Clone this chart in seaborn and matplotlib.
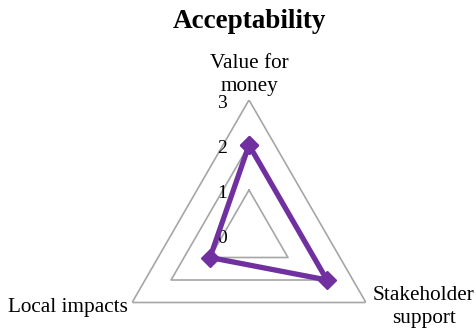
import matplotlib
matplotlib.use("Agg")
import matplotlib.pyplot as plt
import seaborn as sns
import numpy as np
import pandas as pd

# data
categories = ["Value for\nmoney", "Stakeholder\nsupport", "Local impacts"]
scores = [2, 2, 1]
grid_levels = [1, 2, 3]
tick_labels = ["0", "1", "2", "3"]

PURPLE = "#7030A0"
GRID = "#A6A6A6"

sns.set_theme(style="white")
plt.rcParams["font.family"] = ["Liberation Serif", "DejaVu Serif"]
plt.rcParams["text.color"] = "black"

n = len(categories)
angles = [i * 2 * np.pi / n for i in range(n)]

# closed loop for the series
df = pd.DataFrame({
    "theta": angles + angles[:1],
    "score": scores + scores[:1],
})

fig = plt.figure(figsize=(4.77, 3.28), dpi=100)
W, H = 477, 328
cx, cy, R = 249, 235, 135
ax = fig.add_axes([(cx - R) / W, (H - cy - R) / H, 2 * R / W, 2 * R / H], projection="polar")
ax.set_theta_offset(np.pi / 2)
ax.set_theta_direction(-1)
ax.set_ylim(0, 3)
ax.grid(False)
ax.spines["polar"].set_visible(False)
ax.set_xticks([])
ax.set_yticks([])
ax.patch.set_alpha(0)

# triangular gridlines
for lvl in grid_levels:
    ax.plot(angles + angles[:1], [lvl] * (n + 1), color=GRID, lw=1.2, zorder=1)

sns.lineplot(data=df, x="theta", y="score", sort=False, ax=ax, color=PURPLE,
             lw=3.8, marker="D", markersize=9, markeredgecolor=PURPLE,
             markeredgewidth=1, zorder=3, estimator=None)
ax.set_xlabel("")
ax.set_ylabel("")

# value labels along the top axis
for i, t in enumerate(tick_labels):
    ax.annotate(t, xy=(0, i), xytext=(-19.5, -6), textcoords="offset points",
                ha="center", va="baseline", fontsize=14, zorder=2, annotation_clip=False)

# category labels
fs = 15.3
ax.annotate(categories[0], xy=(angles[0], 3), xytext=(0, 3), textcoords="offset points",
            ha="center", va="bottom", fontsize=fs, linespacing=1.3,
            multialignment="center", annotation_clip=False)
ax.annotate(categories[1], xy=(angles[1], 3), xytext=(5, -15), textcoords="offset points",
            ha="left", va="baseline", fontsize=fs, linespacing=1.3,
            multialignment="center", annotation_clip=False)
ax.annotate(categories[2], xy=(angles[2], 3), xytext=(-3, -7), textcoords="offset points",
            ha="right", va="baseline", fontsize=fs, annotation_clip=False)

fig.text(249.5 / W, 1 - 28 / H, "Acceptability", ha="center", va="baseline",
         fontsize=19.5, fontweight="bold")

fig.savefig("out.png", dpi=100)
